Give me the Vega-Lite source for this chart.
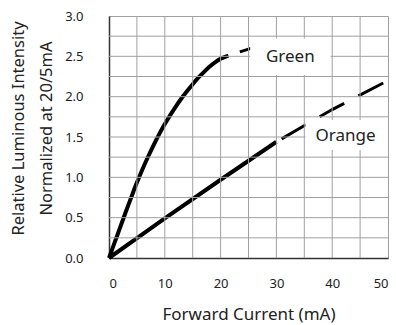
{
  "$schema": "https://vega.github.io/schema/vega-lite/v6.json",
  "width": 279,
  "height": 242,
  "autosize": "none",
  "padding": {"left": 109, "top": 16, "right": 8, "bottom": 67},
  "background": "white",
  "config": {
    "view": {"stroke": "#a0a0a0", "strokeWidth": 1},
    "font": "Noto Sans"
  },
  "datasets": {
    "xgrid": [
      {"current": 5}, {"current": 10}, {"current": 15}, {"current": 20}, {"current": 25},
      {"current": 30}, {"current": 35}, {"current": 40}, {"current": 45}
    ],
    "ygrid": [
      {"intensity": 0.25}, {"intensity": 0.5}, {"intensity": 0.75}, {"intensity": 1},
      {"intensity": 1.25}, {"intensity": 1.5}, {"intensity": 1.75}, {"intensity": 2},
      {"intensity": 2.25}, {"intensity": 2.5}, {"intensity": 2.75}
    ],
    "curves": [
      {"series": "Green", "part": "solid", "current": 0, "intensity": 0},
      {"series": "Green", "part": "solid", "current": 1, "intensity": 0.19},
      {"series": "Green", "part": "solid", "current": 2, "intensity": 0.38},
      {"series": "Green", "part": "solid", "current": 3, "intensity": 0.57},
      {"series": "Green", "part": "solid", "current": 4, "intensity": 0.755},
      {"series": "Green", "part": "solid", "current": 5, "intensity": 0.935},
      {"series": "Green", "part": "solid", "current": 6, "intensity": 1.1},
      {"series": "Green", "part": "solid", "current": 7, "intensity": 1.255},
      {"series": "Green", "part": "solid", "current": 8, "intensity": 1.4},
      {"series": "Green", "part": "solid", "current": 9, "intensity": 1.535},
      {"series": "Green", "part": "solid", "current": 10, "intensity": 1.66},
      {"series": "Green", "part": "solid", "current": 11, "intensity": 1.775},
      {"series": "Green", "part": "solid", "current": 12, "intensity": 1.88},
      {"series": "Green", "part": "solid", "current": 13, "intensity": 1.98},
      {"series": "Green", "part": "solid", "current": 14, "intensity": 2.07},
      {"series": "Green", "part": "solid", "current": 15, "intensity": 2.155},
      {"series": "Green", "part": "solid", "current": 16, "intensity": 2.235},
      {"series": "Green", "part": "solid", "current": 17, "intensity": 2.305},
      {"series": "Green", "part": "solid", "current": 18, "intensity": 2.37},
      {"series": "Green", "part": "solid", "current": 19, "intensity": 2.425},
      {"series": "Green", "part": "solid", "current": 20, "intensity": 2.47},
      {"series": "Green", "part": "solid", "current": 21.4, "intensity": 2.51},
      {"series": "Green", "part": "dashed", "current": 21.4, "intensity": 2.51},
      {"series": "Green", "part": "dashed", "current": 30, "intensity": 2.7},
      {"series": "Orange", "part": "solid", "current": 0, "intensity": 0},
      {"series": "Orange", "part": "solid", "current": 10, "intensity": 0.49},
      {"series": "Orange", "part": "solid", "current": 20, "intensity": 0.97},
      {"series": "Orange", "part": "solid", "current": 30, "intensity": 1.44},
      {"series": "Orange", "part": "dashed", "current": 30, "intensity": 1.44},
      {"series": "Orange", "part": "dashed", "current": 40, "intensity": 1.84},
      {"series": "Orange", "part": "dashed", "current": 50, "intensity": 2.2}
    ],
    "labels": [
      {"label": "Green", "cx": 32.5, "cy": 2.49, "left": 25.3, "right": 39.7, "bottom": 2.27, "top": 2.72},
      {"label": "Orange", "cx": 42.4, "cy": 1.51, "left": 35.2, "right": 50, "bottom": 1.34, "top": 1.71}
    ]
  },
  "layer": [
    {
      "data": {"name": "curves"},
      "transform": [{"filter": "datum.part === 'solid'"}],
      "mark": {"type": "line", "color": "black", "strokeWidth": 4, "strokeJoin": "round", "interpolate": "monotone"},
      "encoding": {
        "x": {
          "field": "current", "type": "quantitative",
          "scale": {"domain": [0, 50], "nice": false},
          "axis": {
            "values": [0, 10, 20, 30, 40, 50],
            "title": "Forward Current (mA)",
            "grid": false,
            "domainColor": "#333333", "domainWidth": 1.5,
            "tickSize": 0, "tickOpacity": 0,
            "labelFontSize": 13, "labelColor": "#222222", "labelFont": "Noto Sans",
            "titleFont": "Noto Sans", "titleFontWeight": "normal", "titleColor": "#222222",
            "labelPadding": 19, "titleFontSize": 17, "titlePadding": 16
          }
        },
        "y": {
          "field": "intensity", "type": "quantitative",
          "scale": {"domain": [0, 3], "nice": false},
          "axis": {
            "values": [0, 0.5, 1, 1.5, 2, 2.5, 3],
            "format": ".1f",
            "title": ["Relative Luminous Intensity", "Normalized at 20/5mA"],
            "grid": false,
            "domainColor": "#333333", "domainWidth": 1.5,
            "tickSize": 0, "tickOpacity": 0,
            "labelFontSize": 13, "labelColor": "#222222", "labelFont": "Noto Sans",
            "titleFont": "Noto Sans", "titleFontWeight": "normal", "titleColor": "#222222",
            "labelPadding": 26, "titleFontSize": 16.5, "titleLineHeight": 28, "titlePadding": 10,
            "titleY": 112
          }
        },
        "detail": {"field": "series"}
      }
    },
    {
      "data": {"name": "curves"},
      "transform": [{"filter": "datum.part === 'dashed' && datum.series === 'Orange'"}],
      "mark": {"type": "line", "color": "black", "strokeWidth": 3, "strokeDash": [28, 16], "strokeDashOffset": 38},
      "encoding": {
        "x": {"field": "current", "type": "quantitative"},
        "y": {"field": "intensity", "type": "quantitative"}
      }
    },
    {
      "data": {"name": "curves"},
      "transform": [{"filter": "datum.part === 'dashed' && datum.series === 'Green'"}],
      "mark": {"type": "line", "color": "black", "strokeWidth": 3, "strokeDash": [28, 16], "strokeDashOffset": 32},
      "encoding": {
        "x": {"field": "current", "type": "quantitative"},
        "y": {"field": "intensity", "type": "quantitative"}
      }
    },
    {
      "data": {"name": "xgrid"},
      "mark": {"type": "rule", "color": "#a0a0a0", "strokeWidth": 1, "opacity": 1},
      "encoding": {
        "x": {"field": "current", "type": "quantitative"},
        "y": {"datum": 0, "type": "quantitative"},
        "y2": {"datum": 3}
      }
    },
    {
      "data": {"name": "ygrid"},
      "mark": {"type": "rule", "color": "#a0a0a0", "strokeWidth": 1, "opacity": 1},
      "encoding": {
        "y": {"field": "intensity", "type": "quantitative"},
        "x": {"datum": 0, "type": "quantitative"},
        "x2": {"datum": 50}
      }
    },
    {
      "data": {"name": "labels"},
      "mark": {"type": "rect", "fill": "white"},
      "encoding": {
        "x": {"field": "left", "type": "quantitative"},
        "x2": {"field": "right"},
        "y": {"field": "bottom", "type": "quantitative"},
        "y2": {"field": "top"}
      }
    },
    {
      "data": {"name": "labels"},
      "mark": {"type": "text", "font": "Noto Sans", "fontSize": 17, "color": "#222222"},
      "encoding": {
        "x": {"field": "cx", "type": "quantitative"},
        "y": {"field": "cy", "type": "quantitative"},
        "text": {"field": "label"}
      }
    }
  ]
}
